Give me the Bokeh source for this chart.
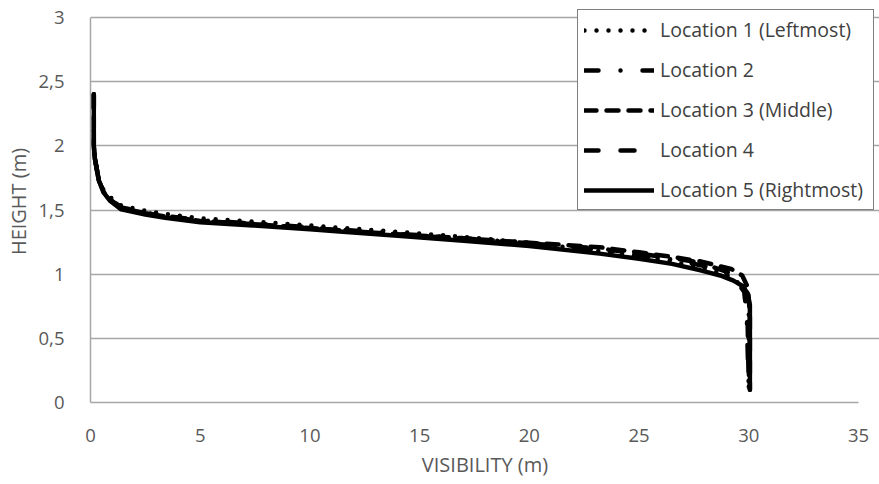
from bokeh.plotting import figure
from bokeh.models import Range1d, FixedTicker, Legend, LegendItem
from bokeh.embed import file_html
from bokeh.resources import INLINE

# ---- data ----
x_ticks = [0, 5, 10, 15, 20, 25, 30, 35]
x_tick_labels = ["0", "5", "10", "15", "20", "25", "30", "35"]
y_ticks = [0, 0.5, 1, 1.5, 2, 2.5, 3]
y_tick_labels = ["0", "0,5", "1", "1,5", "2", "2,5", "3"]

series_names = ["Location 1 (Leftmost)", "Location 2", "Location 3 (Middle)",
                "Location 4", "Location 5 (Rightmost)"]

loc1_x = [0.15, 0.15, 0.2, 0.38, 0.6, 0.9, 1.4, 2.5, 3.4, 5, 7.4, 10, 11.5, 14, 17, 20, 23.2, 25, 26.5, 27.8, 28.7, 29.3, 29.8, 30.0, 30.0]
loc1_y = [2.4, 2.0, 1.9, 1.74, 1.655, 1.6, 1.535, 1.495, 1.47, 1.435, 1.41, 1.38, 1.36, 1.33, 1.29, 1.245, 1.18, 1.14, 1.10, 1.05, 1.01, 0.97, 0.88, 0.78, 0.1]

loc2_x = [0.15, 0.15, 0.2, 0.38, 0.6, 0.9, 1.4, 2.5, 3.4, 5, 7.4, 10, 11.5, 14, 17, 20, 23.2, 25, 26.5, 27.8, 28.7, 29.3, 29.8, 29.9, 30.0]
loc2_y = [2.4, 2.0, 1.9, 1.73, 1.645, 1.585, 1.52, 1.48, 1.455, 1.42, 1.395, 1.365, 1.345, 1.315, 1.28, 1.24, 1.19, 1.15, 1.115, 1.07, 1.03, 0.98, 0.86, 0.7, 0.1]

loc3_x = [0.15, 0.15, 0.2, 0.38, 0.6, 0.9, 1.4, 2.5, 3.4, 5, 7.4, 10, 11.5, 14, 17, 20, 23.2, 25, 26.5, 27.8, 29.2, 29.7, 29.95, 30.05, 30.05]
loc3_y = [2.4, 2.0, 1.9, 1.73, 1.64, 1.58, 1.515, 1.475, 1.45, 1.415, 1.39, 1.36, 1.34, 1.31, 1.28, 1.245, 1.21, 1.17, 1.135, 1.10, 1.04, 0.99, 0.9, 0.7, 0.1]

loc4_x = [0.15, 0.15, 0.2, 0.38, 0.6, 0.9, 1.4, 2.5, 3.4, 5, 7.4, 10, 11.5, 14, 17, 20, 23.2, 25, 26.5, 27.8, 29.3, 29.8, 29.85, 29.95, 30.0]
loc4_y = [2.4, 2.0, 1.9, 1.73, 1.64, 1.58, 1.515, 1.475, 1.45, 1.415, 1.39, 1.36, 1.34, 1.31, 1.275, 1.24, 1.20, 1.16, 1.125, 1.09, 1.0, 0.9, 0.75, 0.6, 0.1]

loc5_x = [0.15, 0.15, 0.2, 0.38, 0.6, 0.9, 1.4, 2.5, 3.4, 5, 7.4, 10, 11.5, 14, 17, 20, 23.2, 25, 26.5, 27.8, 28.7, 29.3, 29.7, 29.95, 30.05, 30.05]
loc5_y = [2.4, 2.0, 1.9, 1.73, 1.635, 1.57, 1.505, 1.465, 1.44, 1.405, 1.38, 1.35, 1.33, 1.30, 1.26, 1.22, 1.16, 1.12, 1.08, 1.03, 0.99, 0.95, 0.91, 0.85, 0.76, 0.1]

series_x = [loc1_x, loc2_x, loc3_x, loc4_x, loc5_x]
series_y = [loc1_y, loc2_y, loc3_y, loc4_y, loc5_y]
series_dash = ["0 12", "14 22 0 22", "12 10", "14 22", "solid"]

FONT = "Open Sans"
TICK_COLOR = "#595959"
GRID_COLOR = "#a6a6a6"

X_MAX, Y_MAX = 35, 3
# frame is extended beyond the data area so the legend box is not clipped
LEFT, RIGHT, TOP, BOTTOM = 90, 0, 0, 82
frame_w = 879 - LEFT - RIGHT
frame_h = 484 - TOP - BOTTOM
x_end = X_MAX * frame_w / 768.0
y_end = Y_MAX * frame_h / 385.0

p = figure(width=879, height=484, output_backend="svg", toolbar_location=None,
           x_range=Range1d(0, x_end), y_range=Range1d(0, y_end),
           min_border_left=LEFT, min_border_right=RIGHT, min_border_top=TOP, min_border_bottom=BOTTOM)
p.outline_line_color = None
p.background_fill_color = "white"
p.border_fill_color = "white"

p.xaxis.ticker = FixedTicker(ticks=x_ticks)
p.yaxis.ticker = FixedTicker(ticks=y_ticks)
p.xaxis.major_label_overrides = dict(zip(x_ticks, x_tick_labels))
p.yaxis.major_label_overrides = dict(zip(y_ticks, y_tick_labels))
p.xaxis.bounds = (0, X_MAX)
p.yaxis.bounds = (0, Y_MAX)

for ax in (p.xaxis[0], p.yaxis[0]):
    ax.major_tick_out = 0
    ax.major_tick_in = 0
    ax.minor_tick_out = 0
    ax.minor_tick_in = 0
    ax.axis_line_color = GRID_COLOR
    ax.axis_line_width = 1.5
    ax.major_label_text_font = FONT
    ax.major_label_text_font_size = "18.5px"
    ax.major_label_text_color = TICK_COLOR
    ax.axis_label_text_font = FONT
    ax.axis_label_text_font_size = "20px"
    ax.axis_label_text_font_style = "normal"
    ax.axis_label_text_color = TICK_COLOR

p.xaxis.axis_label = "VISIBILITY (m)"
p.yaxis.axis_label = "HEIGHT (m)"
p.xaxis.major_label_standoff = 26
p.yaxis.major_label_standoff = 26
p.xaxis.axis_label_standoff = 6
p.yaxis.axis_label_standoff = 4

p.xgrid.grid_line_color = None
p.ygrid.grid_line_color = GRID_COLOR
p.ygrid.grid_line_width = 1.5
p.ygrid.bounds = (0, X_MAX)

items = []
for name, xs, ys, dash in zip(series_names, series_x, series_y, series_dash):
    r = p.line(xs, ys, line_color="black", line_width=4.5, line_dash=dash,
               line_cap="round", line_join="round")
    items.append(LegendItem(label=name, renderers=[r]))

legend = Legend(items=items, location=(487, 192),
                glyph_width=70, glyph_height=20, label_height=20, label_width=207,
                spacing=13, padding=6, margin=0, label_standoff=6,
                label_text_font=FONT, label_text_font_size="19.5px", label_text_color="#404040",
                border_line_color="black", border_line_width=1.5,
                background_fill_color="white", background_fill_alpha=1)
p.add_layout(legend, "center")

open("out.html", "w").write(file_html(p, INLINE))
